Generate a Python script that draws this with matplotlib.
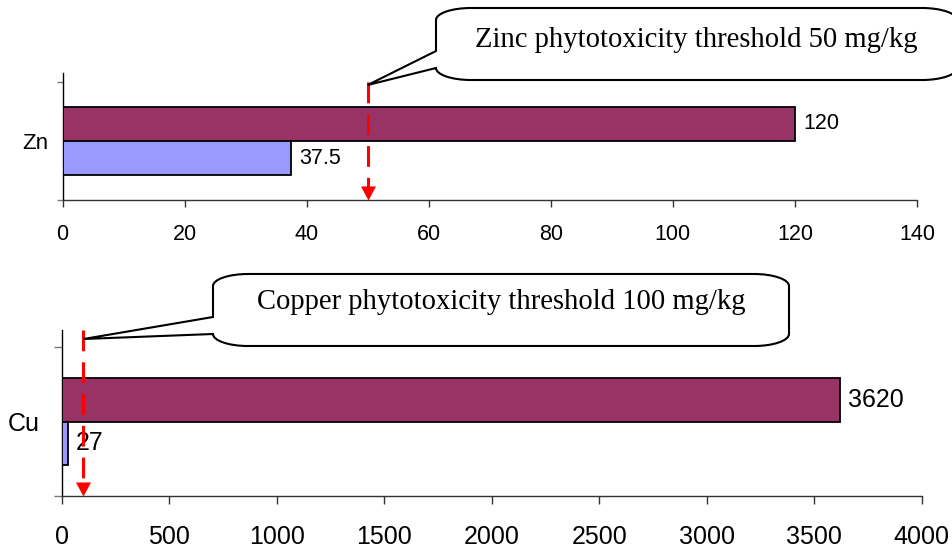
import matplotlib
matplotlib.use("Agg")
import matplotlib.pyplot as plt
from matplotlib.path import Path
from matplotlib.patches import PathPatch

# ---- data ----
metals = ["Zn", "Cu"]
high_values = [120, 3620]        # maroon bars
low_values = [37.5, 27]          # periwinkle bars
high_labels = ["120", "3620"]
low_labels = ["37.5", "27"]
thresholds = [50, 100]
threshold_texts = ["Zinc phytotoxicity threshold 50 mg/kg",
                   "Copper phytotoxicity threshold 100 mg/kg"]
x_max = [140, 4000]
x_step = [20, 500]

MAROON = "#993366"
PERIWINKLE = "#9999FF"
RED = "#FF0000"

W, H, DPI = 953, 549, 100
plt.rcParams["font.family"] = ["Liberation Sans", "DejaVu Sans"]

fig = plt.figure(figsize=(W / DPI, H / DPI), dpi=DPI)
fig.patch.set_facecolor("white")


def px_rect(left, top, right, bottom):
    return [left / W, 1 - bottom / H, (right - left) / W, (bottom - top) / H]


# panel layout (pixels) and styling per panel (sizes in points)
panels = [
    dict(rect=(62.5, 73, 917, 200), ytop=0.5 + 9 / 118, tick_fs=15.5, val_fs=15.5,
         cat_fs=16, cat_pad=10.5, xlen=5, xpad=12, ylen=4.3,
         box=(436, 8, 957, 80), baseline=47, tip_drop=3),
    dict(rect=(62, 330, 921.7, 496), ytop=0.5 + 17 / 149, tick_fs=18, val_fs=18,
         cat_fs=18, cat_pad=16, xlen=5.8, xpad=15, ylen=5.8,
         box=(213, 274, 789, 346), baseline=309, tip_drop=9),
]

bar_h = 0.29

# overlay axes in pixel coordinates for the callouts
ov = fig.add_axes([0, 0, 1, 1], zorder=10)
ov.set_xlim(0, W)
ov.set_ylim(H, 0)
ov.axis("off")
ov.patch.set_alpha(0)


def callout_path(L, T, R, B, rx, ry, y1, y2, tip):
    k = 0.5523
    verts, codes = [], []

    def move(p):
        verts.append(p); codes.append(Path.MOVETO)

    def line(p):
        verts.append(p); codes.append(Path.LINETO)

    def curve(c1, c2, p):
        verts.extend([c1, c2, p]); codes.extend([Path.CURVE4] * 3)

    move((L, T + ry))
    curve((L, T + ry - k * ry), (L + rx - k * rx, T), (L + rx, T))
    line((R - rx, T))
    curve((R - rx + k * rx, T), (R, T + ry - k * ry), (R, T + ry))
    line((R, B - ry))
    curve((R, B - ry + k * ry), (R - rx + k * rx, B), (R - rx, B))
    line((L + rx, B))
    curve((L + rx - k * rx, B), (L, B - ry + k * ry), (L, B - ry))
    line((L, y2))
    line(tip)
    line((L, y1))
    verts.append((L, T + ry)); codes.append(Path.CLOSEPOLY)
    return Path(verts, codes)


for i, p in enumerate(panels):
    ax = fig.add_axes(px_rect(*p["rect"]))
    ax.set_xlim(0, x_max[i])
    ax.set_ylim(-0.5, p["ytop"])

    ax.barh([bar_h / 2], [high_values[i]], height=bar_h, color=MAROON,
            edgecolor="black", linewidth=1.3, zorder=3)
    ax.barh([-bar_h / 2], [low_values[i]], height=bar_h, color=PERIWINKLE,
            edgecolor="black", linewidth=1.3, zorder=3)

    # value labels
    off = x_max[i] * 0.0095
    ax.text(high_values[i] + off, bar_h / 2, high_labels[i], va="center", ha="left",
            fontsize=p["val_fs"], zorder=5)
    ax.text(low_values[i] + off, -bar_h / 2, low_labels[i], va="center", ha="left",
            fontsize=p["val_fs"], zorder=5)

    # spines
    for s in ("top", "right"):
        ax.spines[s].set_visible(False)
    ax.spines["left"].set_linewidth(1.0)
    ax.spines["bottom"].set_linewidth(1.0)
    ax.spines["bottom"].set_color("#333333")

    # x axis
    ax.set_xticks(range(0, x_max[i] + 1, x_step[i]))
    ax.tick_params(axis="x", direction="out", length=p["xlen"], width=1.0,
                   color="#333333", labelsize=p["tick_fs"], pad=p["xpad"])

    # y axis: boundary ticks, category name in the middle
    ax.set_yticks([-0.5, 0.5])
    ax.set_yticklabels([])
    ax.tick_params(axis="y", which="major", direction="out", length=p["ylen"],
                   width=1.0, color="#777777")
    ax.set_yticks([0], labels=[metals[i]], minor=True)
    ax.tick_params(axis="y", which="minor", length=0, pad=p["cat_pad"],
                   labelsize=p["cat_fs"])

    # dashed threshold line with arrowhead at the axis
    y_line_top = 0.5 if i == 0 else p["ytop"]
    to_px = ax.transData
    inv = ax.transData.inverted()
    tip_disp = to_px.transform((thresholds[i], -0.5))
    base_y = inv.transform((tip_disp[0], tip_disp[1] + 10))[1]
    ax.plot([thresholds[i], thresholds[i]], [y_line_top, base_y], color=RED, lw=2.2,
            dashes=(6.8, 3.6), solid_capstyle="butt", dash_capstyle="butt",
            clip_on=False, zorder=6)
    ax.plot([thresholds[i]], [-0.5], marker=[(0, 0), (-7.5, 14), (7.5, 14)],
            markersize=20.2, color=RED, markeredgewidth=0, clip_on=False, zorder=7)

    # callout pointing at the top of the threshold line
    top_disp = to_px.transform((thresholds[i], y_line_top))
    tip = ov.transData.inverted().transform((top_disp[0], top_disp[1] - p["tip_drop"]))
    L, T, R, B = p["box"]
    path = callout_path(L, T, R, B, 35, 12, T + 43, B - 12, tuple(tip))
    ov.add_patch(PathPatch(path, facecolor="white", edgecolor="black", lw=1.5,
                           clip_on=False, zorder=5))
    ov.text((L + R) / 2, p["baseline"], threshold_texts[i], ha="center", va="baseline",
            fontsize=20.6, family=["Liberation Serif", "DejaVu Serif"], zorder=6)

fig.savefig("out.png", dpi=DPI)
